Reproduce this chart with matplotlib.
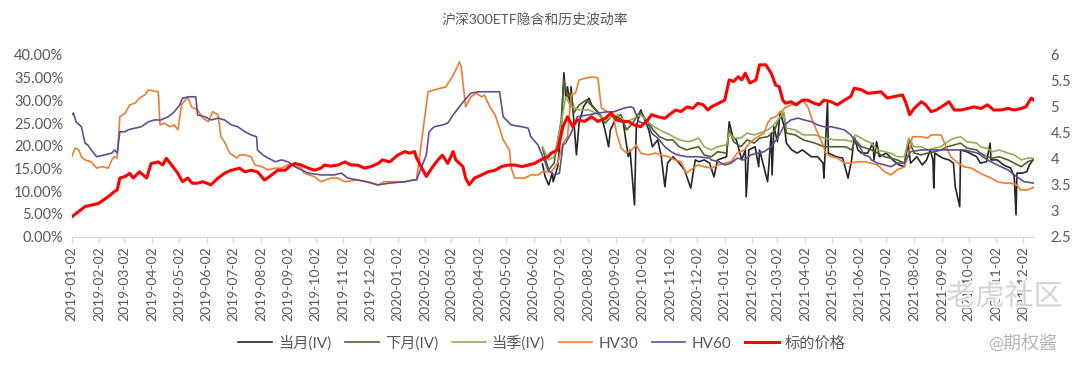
import matplotlib
matplotlib.use("Agg")
import matplotlib.pyplot as plt
import matplotlib.patheffects as pe
import pandas as pd
from matplotlib.ticker import FuncFormatter, MultipleLocator

plt.rcParams['font.family'] = ['Lato', 'Noto Sans CJK SC', 'DejaVu Sans']

# ---------------- data ----------------
price_dates = ["2019-01-02","2019-01-17","2019-02-01","2019-02-12","2019-02-19","2019-02-22","2019-02-25","2019-03-03","2019-03-08","2019-03-12","2019-03-19","2019-03-27","2019-04-01","2019-04-09","2019-04-14","2019-04-18","2019-04-24","2019-05-01","2019-05-06","2019-05-12","2019-05-17","2019-05-23","2019-05-29","2019-06-07","2019-06-15","2019-06-22","2019-06-28","2019-07-09","2019-07-15","2019-07-22","2019-07-29","2019-08-06","2019-08-14","2019-08-21","2019-08-29","2019-09-05","2019-09-09","2019-09-16","2019-09-24","2019-10-01","2019-10-08","2019-10-12","2019-10-19","2019-10-27","2019-11-04","2019-11-11","2019-11-18","2019-11-26","2019-12-03","2019-12-11","2019-12-16","2019-12-24","2020-01-02","2020-01-10","2020-01-15","2020-01-21","2020-01-23","2020-02-03","2020-02-09","2020-02-16","2020-02-21","2020-02-27","2020-03-04","2020-03-07","2020-03-15","2020-03-18","2020-03-22","2020-03-28","2020-04-05","2020-04-12","2020-04-20","2020-04-27","2020-05-05","2020-05-12","2020-05-20","2020-05-27","2020-06-03","2020-06-10","2020-06-18","2020-06-22","2020-06-29","2020-07-05","2020-07-10","2020-07-16","2020-07-21","2020-07-29","2020-08-06","2020-08-13","2020-08-21","2020-08-28","2020-09-03","2020-09-10","2020-09-16","2020-09-23","2020-09-30","2020-10-08","2020-10-12","2020-10-19","2020-10-27","2020-11-01","2020-11-08","2020-11-14","2020-11-21","2020-11-27","2020-12-03","2020-12-09","2020-12-14","2020-12-18","2020-12-26","2021-01-02","2021-01-07","2021-01-12","2021-01-17","2021-01-21","2021-01-25","2021-01-30","2021-02-06","2021-02-10","2021-02-17","2021-02-23","2021-02-28","2021-03-04","2021-03-08","2021-03-11","2021-03-17","2021-03-23","2021-03-30","2021-04-05","2021-04-12","2021-04-18","2021-04-23","2021-05-01","2021-05-08","2021-05-16","2021-05-23","2021-05-27","2021-06-04","2021-06-11","2021-06-26","2021-07-03","2021-07-11","2021-07-20","2021-07-24","2021-07-28","2021-08-02","2021-08-10","2021-08-15","2021-08-21","2021-08-27","2021-09-05","2021-09-10","2021-09-16","2021-09-23","2021-10-01","2021-10-08","2021-10-16","2021-10-23","2021-10-30","2021-11-07","2021-11-15","2021-11-22","2021-11-30","2021-12-05","2021-12-11","2021-12-14"]
price_values = [2.88,3.08,3.14,3.27,3.37,3.40,3.63,3.66,3.72,3.63,3.75,3.63,3.91,3.94,3.88,4.01,3.88,3.72,3.56,3.63,3.53,3.53,3.56,3.50,3.63,3.72,3.77,3.82,3.75,3.78,3.75,3.59,3.69,3.78,3.78,3.88,3.91,3.88,3.82,3.78,3.82,3.88,3.86,3.88,3.94,3.88,3.88,3.82,3.85,3.91,3.98,3.94,4.07,4.14,4.11,4.14,4.02,3.66,3.82,3.98,4.07,3.91,4.14,3.98,3.85,3.63,3.50,3.63,3.69,3.75,3.78,3.85,3.88,3.88,3.85,3.88,3.91,3.98,4.04,4.11,4.17,4.62,4.81,4.62,4.75,4.72,4.81,4.72,4.78,4.88,4.75,4.72,4.72,4.65,4.62,4.75,4.85,4.81,4.78,4.85,4.94,4.91,5.00,4.97,5.07,5.04,4.94,5.00,5.07,5.13,5.52,5.49,5.58,5.52,5.65,5.46,5.52,5.81,5.81,5.65,5.42,5.39,5.13,5.07,5.10,5.04,5.13,5.13,5.07,5.04,5.13,5.10,5.04,5.13,5.20,5.36,5.33,5.26,5.29,5.17,5.20,5.23,5.07,4.85,4.97,5.10,5.04,4.91,4.94,5.04,5.10,4.94,4.94,4.97,5.00,4.97,5.04,4.94,4.94,4.97,4.94,4.97,5.00,5.17,5.13]

hv30_dates = ["2019-01-02","2019-01-06","2019-01-10","2019-01-13","2019-01-17","2019-01-24","2019-01-30","2019-02-05","2019-02-12","2019-02-16","2019-02-19","2019-02-22","2019-02-25","2019-03-03","2019-03-08","2019-03-14","2019-03-19","2019-03-25","2019-03-29","2019-04-09","2019-04-11","2019-04-16","2019-04-22","2019-04-27","2019-05-01","2019-05-05","2019-05-12","2019-05-16","2019-05-23","2019-05-29","2019-06-04","2019-06-09","2019-06-15","2019-06-18","2019-06-22","2019-06-28","2019-07-06","2019-07-09","2019-07-15","2019-07-22","2019-07-26","2019-08-03","2019-08-10","2019-08-18","2019-08-25","2019-09-01","2019-09-05","2019-09-16","2019-09-19","2019-10-01","2019-10-08","2019-10-19","2019-10-27","2019-11-04","2019-11-17","2019-11-26","2019-12-03","2019-12-11","2019-12-18","2019-12-29","2020-01-10","2020-01-19","2020-01-23","2020-02-03","2020-02-05","2020-02-12","2020-02-19","2020-02-25","2020-03-02","2020-03-06","2020-03-11","2020-03-13","2020-03-18","2020-03-24","2020-03-30","2020-04-05","2020-04-08","2020-04-14","2020-04-20","2020-04-25","2020-04-29","2020-05-06","2020-05-08","2020-05-12","2020-05-23","2020-05-30","2020-06-07","2020-06-12","2020-06-22","2020-06-29","2020-07-05","2020-07-10","2020-07-14","2020-07-19","2020-07-23","2020-07-30","2020-08-07","2020-08-13","2020-08-17","2020-08-24","2020-08-30","2020-09-03","2020-09-08","2020-09-14","2020-09-20","2020-09-25","2020-09-30","2020-10-08","2020-10-16","2020-10-23","2020-10-31","2020-11-07","2020-11-14","2020-11-20","2020-11-25","2020-12-03","2020-12-10","2020-12-18","2020-12-26","2021-01-02","2021-01-09","2021-01-16","2021-01-24","2021-01-31","2021-02-08","2021-02-15","2021-02-19","2021-02-23","2021-02-28","2021-03-06","2021-03-10","2021-03-17","2021-03-25","2021-03-30","2021-04-05","2021-04-10","2021-04-16","2021-04-22","2021-04-25","2021-05-01","2021-05-08","2021-05-16","2021-05-23","2021-05-31","2021-06-07","2021-06-15","2021-06-22","2021-06-30","2021-07-07","2021-07-14","2021-07-22","2021-07-27","2021-07-31","2021-08-10","2021-08-17","2021-08-21","2021-09-01","2021-09-05","2021-09-12","2021-09-20","2021-09-27","2021-10-05","2021-10-12","2021-10-19","2021-10-27","2021-11-03","2021-11-11","2021-11-18","2021-11-25","2021-11-29","2021-12-07","2021-12-14"]
hv30_values = [17.6,19.5,19.1,17.6,16.9,16.5,15.1,15.4,15.1,16.9,17.6,17.3,26.4,27.2,29.0,29.4,30.5,31.2,32.3,31.9,24.6,25.0,24.2,24.6,23.5,29.0,30.8,28.6,27.9,26.1,25.3,27.5,26.8,22.0,20.9,18.4,17.3,18.0,18.0,17.6,15.8,15.4,14.7,15.1,15.1,15.8,15.8,15.1,14.0,13.2,12.1,12.9,12.9,12.1,12.5,12.1,11.8,11.4,12.1,12.1,12.1,12.5,12.5,29.0,31.9,32.3,32.7,33.0,34.9,36.3,38.5,37.4,28.6,30.8,31.6,30.8,31.2,28.6,26.8,23.9,21.3,19.1,15.1,12.9,12.9,13.6,13.6,14.3,14.3,16.2,20.6,22.0,31.2,31.6,34.5,34.9,35.2,34.9,28.3,27.5,26.8,22.8,19.5,18.4,19.1,20.2,18.4,18.0,18.4,18.0,17.6,16.9,16.5,14.0,14.7,15.8,15.4,15.1,15.8,16.2,16.5,18.4,19.1,20.9,22.0,22.8,25.0,26.1,26.4,27.5,28.3,29.0,29.4,30.1,28.6,25.7,22.8,20.2,18.4,17.6,17.3,16.2,16.2,16.5,16.5,16.2,15.8,14.3,13.6,14.7,15.4,18.4,22.0,22.0,21.7,22.4,22.4,20.6,17.6,16.2,15.4,15.1,14.3,13.6,12.9,12.1,11.8,11.8,11.4,10.3,10.3,10.9]

hv60_dates = ["2019-01-02","2019-01-04","2019-01-07","2019-01-13","2019-01-17","2019-01-20","2019-01-24","2019-01-30","2019-02-08","2019-02-16","2019-02-19","2019-02-22","2019-02-25","2019-03-03","2019-03-06","2019-03-14","2019-03-21","2019-03-29","2019-04-05","2019-04-12","2019-04-20","2019-04-27","2019-05-03","2019-05-06","2019-05-14","2019-05-21","2019-05-23","2019-05-31","2019-06-07","2019-06-15","2019-06-22","2019-06-30","2019-07-07","2019-07-15","2019-07-22","2019-07-28","2019-07-29","2019-08-04","2019-08-10","2019-08-18","2019-08-25","2019-09-01","2019-09-09","2019-09-12","2019-09-24","2019-10-08","2019-10-23","2019-10-31","2019-11-07","2019-11-18","2019-11-29","2019-12-11","2019-12-24","2020-01-10","2020-01-21","2020-01-23","2020-02-03","2020-02-06","2020-02-10","2020-02-12","2020-02-21","2020-02-27","2020-03-04","2020-03-11","2020-03-17","2020-03-24","2020-04-01","2020-04-16","2020-04-25","2020-04-29","2020-05-08","2020-05-20","2020-05-27","2020-05-30","2020-06-07","2020-06-10","2020-06-14","2020-06-18","2020-06-25","2020-07-01","2020-07-05","2020-07-08","2020-07-14","2020-07-21","2020-08-02","2020-08-13","2020-08-24","2020-08-31","2020-09-11","2020-09-19","2020-09-22","2020-09-28","2020-10-09","2020-10-12","2020-10-19","2020-10-27","2020-11-03","2020-11-10","2020-11-21","2020-12-03","2020-12-16","2020-12-18","2020-12-26","2021-01-02","2021-01-09","2021-01-16","2021-01-24","2021-01-31","2021-02-08","2021-02-15","2021-02-23","2021-03-02","2021-03-10","2021-03-17","2021-03-25","2021-04-01","2021-04-09","2021-04-16","2021-04-23","2021-05-01","2021-05-08","2021-05-16","2021-05-23","2021-05-29","2021-06-04","2021-06-07","2021-06-13","2021-06-15","2021-06-22","2021-06-30","2021-07-07","2021-07-14","2021-07-22","2021-07-29","2021-08-10","2021-08-21","2021-09-05","2021-09-16","2021-09-27","2021-10-12","2021-10-23","2021-11-03","2021-11-15","2021-11-25","2021-12-03","2021-12-14"]
hv60_values = [26.8,27.2,25.3,24.2,20.6,20.2,19.1,17.6,18.0,18.4,19.1,18.4,23.1,23.1,23.5,23.9,24.2,25.3,25.7,25.7,26.4,27.5,29.0,30.5,30.8,30.8,26.8,26.4,25.7,26.1,25.7,24.6,24.2,23.1,22.4,22.0,19.1,18.0,17.3,16.5,16.9,16.5,15.4,15.1,14.0,13.6,13.6,14.0,12.9,12.5,12.1,11.4,11.8,12.1,12.5,12.5,18.0,23.0,23.9,24.2,24.6,25.0,26.8,28.6,30.1,31.6,31.9,31.9,31.9,26.4,24.6,24.2,23.9,22.0,20.2,18.7,16.9,14.7,13.6,14.0,20.2,20.6,22.8,26.4,26.8,27.2,27.5,27.5,28.3,28.6,28.3,25.3,24.6,22.8,21.7,19.8,18.7,18.0,17.6,17.6,17.3,16.9,16.5,15.8,16.2,17.3,16.9,18.0,18.4,18.7,19.8,21.7,24.6,25.7,26.1,25.7,25.3,24.6,24.2,24.2,23.9,23.5,22.4,20.9,19.1,18.0,17.6,16.9,16.2,15.8,15.4,16.2,16.2,18.7,19.1,19.1,19.1,19.1,19.1,18.4,16.9,15.8,14.7,13.2,12.1,11.8]

iv_m1_dates = ["2020-06-12","2020-06-15","2020-06-19","2020-06-23","2020-06-24","2020-06-29","2020-07-03","2020-07-06","2020-07-08","2020-07-10","2020-07-13","2020-07-14","2020-07-17","2020-07-20","2020-07-23","2020-07-28","2020-08-03","2020-08-06","2020-08-11","2020-08-17","2020-08-21","2020-08-25","2020-08-27","2020-09-03","2020-09-10","2020-09-16","2020-09-18","2020-09-23","2020-09-25","2020-09-30","2020-10-09","2020-10-13","2020-10-19","2020-10-23","2020-10-27","2020-10-30","2020-11-05","2020-11-12","2020-11-18","2020-11-25","2020-11-30","2020-12-04","2020-12-10","2020-12-16","2020-12-21","2020-12-25","2021-01-04","2021-01-07","2021-01-11","2021-01-15","2021-01-21","2021-01-25","2021-01-26","2021-01-29","2021-02-05","2021-02-09","2021-02-10","2021-02-19","2021-02-23","2021-02-24","2021-02-26","2021-03-02","2021-03-05","2021-03-10","2021-03-12","2021-03-18","2021-03-24","2021-03-30","2021-04-09","2021-04-16","2021-04-22","2021-04-23","2021-04-27","2021-04-28","2021-05-07","2021-05-14","2021-05-20","2021-05-24","2021-05-27","2021-05-31","2021-06-04","2021-06-11","2021-06-17","2021-06-18","2021-06-21","2021-06-24","2021-07-02","2021-07-09","2021-07-16","2021-07-22","2021-07-26","2021-07-29","2021-08-05","2021-08-11","2021-08-16","2021-08-20","2021-08-23","2021-08-24","2021-08-25","2021-09-03","2021-09-10","2021-09-15","2021-09-17","2021-09-22","2021-09-23","2021-09-30","2021-10-11","2021-10-15","2021-10-22","2021-10-26","2021-10-27","2021-11-03","2021-11-10","2021-11-18","2021-11-22","2021-11-24","2021-11-25","2021-12-01","2021-12-06","2021-12-09","2021-12-13"]
iv_m1_values = [16.0,13.2,11.4,14.0,12.1,15.4,23.5,36.1,30.8,33.0,28.6,33.0,25.7,18.0,25.0,28.6,30.5,29.0,27.9,26.4,23.5,19.8,23.5,26.4,25.7,17.6,19.1,7.0,24.2,27.9,23.5,19.8,21.3,17.6,11.0,16.2,17.6,16.2,14.7,10.7,16.9,16.5,16.9,16.2,13.2,16.9,17.6,25.3,22.0,21.3,16.9,19.1,8.8,19.1,19.8,15.4,19.1,12.1,22.8,13.6,24.2,20.9,27.5,23.9,20.6,19.1,18.4,19.1,17.6,17.6,16.2,12.9,29.7,18.4,17.6,17.3,12.9,16.9,22.0,19.1,18.4,18.4,20.6,16.9,20.9,17.6,18.4,16.9,15.8,15.4,20.6,16.2,17.6,15.8,16.9,19.1,16.9,10.7,18.4,17.3,16.9,16.2,11.0,6.6,19.1,18.7,17.6,16.2,16.5,20.6,16.9,16.9,15.8,15.1,13.2,4.8,14.0,14.0,14.3,15.8,16.9]

iv_m2_dates = ["2020-06-12","2020-06-19","2020-06-25","2020-07-03","2020-07-06","2020-07-10","2020-07-14","2020-07-17","2020-07-23","2020-07-31","2020-08-07","2020-08-14","2020-08-21","2020-08-28","2020-09-08","2020-09-14","2020-09-21","2020-09-29","2020-10-09","2020-10-14","2020-10-21","2020-10-29","2020-11-05","2020-11-12","2020-11-20","2020-11-27","2020-12-04","2020-12-10","2020-12-18","2020-12-25","2021-01-04","2021-01-07","2021-01-12","2021-01-20","2021-01-27","2021-02-04","2021-02-10","2021-02-19","2021-02-26","2021-03-05","2021-03-09","2021-03-12","2021-03-22","2021-03-31","2021-04-13","2021-04-23","2021-05-06","2021-05-17","2021-05-24","2021-05-28","2021-06-04","2021-06-15","2021-06-22","2021-06-30","2021-07-07","2021-07-14","2021-07-22","2021-07-27","2021-08-02","2021-08-10","2021-08-17","2021-08-25","2021-09-01","2021-09-08","2021-09-16","2021-09-23","2021-09-30","2021-10-11","2021-10-15","2021-10-22","2021-10-29","2021-11-05","2021-11-15","2021-11-22","2021-11-30","2021-12-07","2021-12-13"]
iv_m2_values = [19.5,14.7,16.2,25.7,34.5,30.8,31.9,27.2,29.0,30.1,28.6,27.2,25.0,26.4,26.8,23.5,25.0,27.5,25.0,23.5,22.0,21.3,21.3,19.8,19.1,19.5,19.8,18.0,17.6,18.7,18.4,23.5,20.9,19.8,21.3,20.6,21.7,22.0,23.1,26.4,27.2,22.8,22.4,21.3,20.6,19.8,19.8,19.8,19.1,21.3,19.8,19.1,18.4,17.6,17.3,16.9,16.2,21.3,18.4,18.0,18.4,18.7,19.1,19.8,20.2,20.6,19.5,19.1,18.4,17.6,17.3,17.6,16.9,16.2,15.4,16.5,16.9]

iv_q_dates = ["2020-06-12","2020-06-19","2020-06-25","2020-07-03","2020-07-08","2020-07-14","2020-07-23","2020-08-03","2020-08-11","2020-08-21","2020-09-03","2020-09-14","2020-09-23","2020-09-30","2020-10-12","2020-10-21","2020-11-02","2020-11-12","2020-11-23","2020-12-04","2020-12-10","2020-12-18","2020-12-25","2021-01-04","2021-01-07","2021-01-12","2021-01-20","2021-01-27","2021-02-04","2021-02-10","2021-02-19","2021-02-26","2021-03-05","2021-03-09","2021-03-12","2021-03-22","2021-03-31","2021-04-13","2021-04-23","2021-05-06","2021-05-17","2021-05-24","2021-05-28","2021-06-04","2021-06-07","2021-06-15","2021-06-22","2021-06-30","2021-07-07","2021-07-14","2021-07-22","2021-07-27","2021-08-02","2021-08-10","2021-08-17","2021-08-25","2021-09-01","2021-09-08","2021-09-16","2021-09-23","2021-09-30","2021-10-11","2021-10-15","2021-10-22","2021-10-29","2021-11-05","2021-11-15","2021-11-22","2021-11-30","2021-12-07","2021-12-13"]
iv_q_values = [19.8,16.9,17.6,25.0,30.8,28.6,27.9,27.9,27.2,25.7,26.8,25.3,26.1,26.8,24.6,23.5,22.4,21.3,20.9,21.7,19.8,19.1,19.8,20.2,22.8,21.7,21.7,22.8,22.4,22.8,23.5,24.6,26.4,27.5,23.9,23.5,22.4,22.4,21.7,21.3,21.3,20.9,22.4,21.7,21.3,20.6,19.1,18.7,18.4,17.6,17.6,21.7,19.8,19.8,19.1,19.5,19.8,20.9,21.7,22.0,20.9,20.6,19.8,19.5,18.7,19.1,18.4,18.0,16.9,17.3,17.3]

tick_labels = [f"{y}-{m:02d}-02" for y in (2019, 2020, 2021) for m in range(1, 13)]

title_text = "沪深300ETF隐含和历史波动率"
series_names = ["当月(IV)", "下月(IV)", "当季(IV)", "HV30", "HV60", "标的价格"]

# ---------------- styling ----------------
GRAY = "#595959"
colors = ["#262626", "#4F6228", "#8DB255", "#ED7D31", "#5F4E92", "#FF0000"]

fig = plt.figure(figsize=(10.8, 3.68), dpi=100)
ax = fig.add_axes([0.0663, 0.3568, 0.891, 0.4938])
ax2 = ax.twinx()

def d(lst):
    return pd.to_datetime(lst)

ax.plot(d(iv_m1_dates), iv_m1_values, color=colors[0], lw=1.2, label=series_names[0])
ax.plot(d(iv_m2_dates), iv_m2_values, color=colors[1], lw=1.2, label=series_names[1])
ax.plot(d(iv_q_dates), iv_q_values, color=colors[2], lw=1.2, label=series_names[2])
ax.plot(d(hv30_dates), hv30_values, color=colors[3], lw=1.2, label=series_names[3])
ax.plot(d(hv60_dates), hv60_values, color=colors[4], lw=1.2, label=series_names[4])
ax2.plot(d(price_dates), price_values, color=colors[5], lw=2.2, label=series_names[5])

ax.set_ylim(0, 40)
ax.yaxis.set_major_locator(MultipleLocator(5))
ax.yaxis.set_major_formatter(FuncFormatter(lambda v, p: f"{v:.2f}%"))
ax2.set_ylim(2.5, 6)
ax2.yaxis.set_major_locator(MultipleLocator(0.5))
ax2.yaxis.set_major_formatter(FuncFormatter(lambda v, p: f"{v:g}"))

ax.set_xlim(pd.Timestamp("2019-01-02"), pd.Timestamp("2021-12-14"))
ax.set_xticks(d(tick_labels))
ax.set_xticklabels(tick_labels, rotation=90)

for a in (ax, ax2):
    for s in ("top", "left", "right", "bottom"):
        a.spines[s].set_visible(False)
ax.spines["bottom"].set_visible(True)
ax.spines["bottom"].set_color("#D9D9D9")
ax.tick_params(axis="x", colors="#D9D9D9", length=4, width=1, labelcolor=GRAY, labelsize=10, pad=3)
ax.tick_params(axis="y", length=0, labelcolor=GRAY, labelsize=10.5, pad=6)
ax2.tick_params(axis="y", length=0, labelcolor=GRAY, labelsize=10.5, pad=12)

fig.text(0.495, 0.948, title_text, ha="center", va="center", fontsize=10, color=GRAY)

h1, l1 = ax.get_legend_handles_labels()
h2, l2 = ax2.get_legend_handles_labels()
fig.legend(h1 + h2, l1 + l2, loc="center", bbox_to_anchor=(0.502, 0.068), ncol=6,
           frameon=False, fontsize=11, handlelength=2.2, columnspacing=0.9,
           handletextpad=0.4, labelcolor=GRAY)

# watermarks
fig.text(0.93, 0.195, "老虎社区", ha="center", va="center", fontsize=21, color="#D4D4D4",
         path_effects=[pe.withStroke(linewidth=2, foreground="white")], zorder=10)
fig.text(0.947, 0.068, "@期权酱", ha="center", va="center", fontsize=13, color="#B5B5B5", zorder=10)

fig.savefig("out.png", dpi=100)
